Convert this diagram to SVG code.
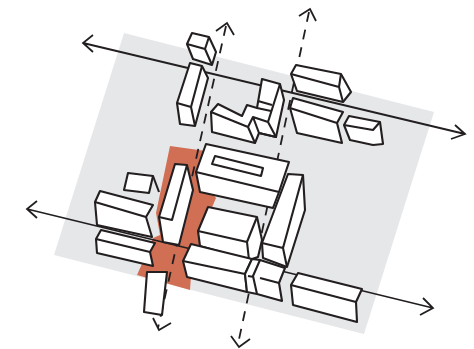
<svg xmlns="http://www.w3.org/2000/svg" width="474" height="349" viewBox="0 0 474 349">
<style>
.b polygon{fill:#fff;stroke:#231f20;stroke-width:2.1;stroke-linejoin:round}
.b path{fill:none;stroke:#231f20;stroke-width:2.1;stroke-linejoin:round}
.a{fill:none;stroke:#231f20;stroke-width:1.8}
.d{stroke-dasharray:10 8}
</style>
<rect width="474" height="349" fill="#fff"/>
<g id="site"><polygon points="124,33 434,112 364,334 54,255" fill="#e6e7e8"/>
<polygon points="170,146 206,151 196,172 216,198 201,233 199,250 192,262 190,290 137,275 145,257 153,238 160,235 156,213" fill="#d16f55"/></g>
<g id="connectors">
<path class="a" d="M83,43 465,134M93,35 83,43 93,52M455,125 465,134 451,139"/>
<path class="a" d="M27,209 433,308M37,201 27,209 37,218M423,298 433,308 420,315"/>
<path class="a d" d="M226,26 158,328"/><path class="a" d="M216,31 227,23 234,35M153,318 159,330 171,323"/>
<path class="a d" d="M309,12 238,344"/><path class="a" d="M299,16 310,9 316,21M231,336 239,347 250,339"/>
</g>
<g id="b1" class="b"><polygon points="187,44 192,33 209,37 216,52 212,65 193,59"/><path d="M187,44 205,49 209,37M205,49 212,65"/></g>
<g id="b2" class="b"><polygon points="177,103 190,63 202,66 208,78 195,126 180,124"/><path d="M177,103 191,107 202,66M191,107 195,126"/></g>
<g id="b3" class="b"><polygon points="211,112 218,104 242,116 247,105 257,108 262,79 280,84 284,100 276,137 259,133 255,143 212,132"/><path d="M211,112 248,127 255,143M248,127 253,117 268,122 280,84M253,117 259,133 276,137 268,122M258,101 272,105M257,108 271,111"/></g>
<g id="b5" class="b"><polygon points="291,74 296,65 341,74 351,92 343,102 297,91"/><path d="M291,74 339,87 341,74M339,87 343,102"/></g>
<g id="b6" class="b"><polygon points="290,108 293,98 343,112 337,123 342,143 297,133"/><path d="M290,108 337,123"/></g>
<g id="b7" class="b"><polygon points="344,125 349,116 380,122 383,144 373,145 350,140"/><path d="M344,125 373,130 380,122"/></g>
<g id="b8" class="b"><polygon points="124,190 128,173 153,176 149,193"/><path d="M153,176 159,192"/></g>
<g id="b9" class="b"><polygon points="95,202 100,191 153,205 146,217 152,237 97,225"/><path d="M95,202 146,217"/></g>
<g id="b10" class="b"><polygon points="96,239 101,230 155,243 150,252 153,266 97,253"/><path d="M96,239 150,252"/></g>
<g id="b11" class="b"><polygon points="159,217 175,164 187,165 193,190 179,245 163,242"/><path d="M159,217 172,220 187,165"/></g>
<g id="b12" class="b"><polygon points="147,272 167,272 162,315 144,312"/></g>
<g id="b13" class="b"><polygon points="196,172 206,144 289,162 279,192 273,208 200,192"/><path d="M196,172 279,192"/><polygon points="212,164 215,156 263,168 261,176"/></g>
<g id="b14" class="b"><polygon points="198,231 208,207 257,217 262,240 258,257 249,260 200,246"/><path d="M198,231 247,242 257,217M247,242 249,260"/></g>
<g id="b15" class="b"><polygon points="262,243 288,174 303,175 305,210 287,267 263,258"/><path d="M262,243 283,248 303,175M283,248 287,267"/></g>
<g id="b16" class="b"><polygon points="183,261 191,244 252,259 245,274 247,292 187,277"/><path d="M183,261 245,274"/></g>
<g id="b17" class="b"><polygon points="245,274 252,259 260,260 285,268 279,283 282,301 257,294 247,292"/><path d="M260,260 253,276 257,294M254,277 248,276M260,278 279,283"/></g>
<g id="b18" class="b"><polygon points="291,285 298,273 362,289 356,302 357,322 293,305"/><path d="M291,285 356,302"/></g>
</svg>
